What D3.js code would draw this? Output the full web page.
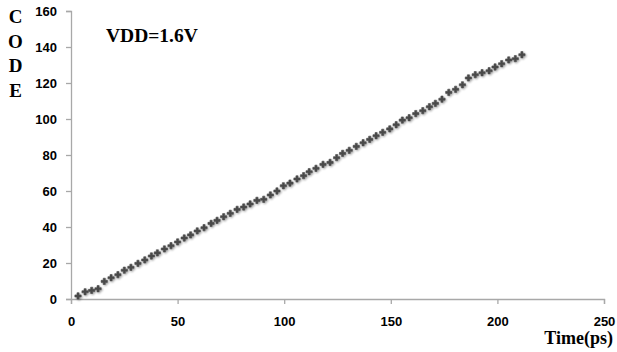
<!DOCTYPE html>
<html>
<head>
<meta charset="utf-8">
<script src="https://cdn.jsdelivr.net/npm/d3@7"></script>
<style>
body { margin: 0; background: #fff; }
.tick text { font-family: "Liberation Sans", Arial, sans-serif; font-weight: bold; font-size: 13px; fill: #000; }
.serifLabel { font-family: "Liberation Serif", "Times New Roman", serif; font-weight: bold; fill: #000; }
</style>
</head>
<body>
<svg id="chart" width="617" height="352"></svg>
<script>
// time (ps) and output code
var timePs = [3.3, 6.6, 9.7, 12.7, 15.6, 18.8, 22.0, 25.0, 28.1, 31.4, 34.6, 37.7, 40.5, 43.8, 46.9, 50.0, 53.1,
	56.1, 59.2, 62.4, 65.7, 68.5, 71.6, 74.7, 77.9, 81.0, 84.0, 87.2, 90.4, 93.5, 96.6, 99.6, 102.7, 106.0,
	109.1, 111.7, 114.9, 118.2, 121.5, 124.6, 127.4, 130.5, 133.8, 137.0, 140.1, 143.1, 146.2, 149.5, 152.5,
	155.4, 158.6, 161.7, 165.0, 168.1, 170.9, 174.0, 177.2, 180.4, 183.6, 186.4, 189.6, 192.8, 196.1, 198.9,
	202.0, 205.3, 208.4, 211.5];
var codeVals = [1.7, 4, 4.8, 5.7, 9.8, 11.8, 13.5, 16, 17.6, 19.8, 21.7, 23.9, 25.6, 27.8, 29.6, 31.7, 33.9,
	35.6, 37.8, 39.6, 42, 43.7, 45.7, 47.6, 49.8, 51.1, 52.8, 54.8, 55.4, 57.8, 60, 62.9, 64.4, 66.7,
	68.5, 70.7, 72.6, 74.8, 75.9, 78.5, 80.9, 82.6, 84.8, 86.8, 88.7, 90.7, 92.6, 94.5, 96.8,
	99.4, 100.7, 103, 104.6, 106.8, 108.7, 111, 114.8, 116.5, 119, 122.8, 124.6, 125.7, 126.8, 128.9,
	130.7, 132.8, 133.5, 135.7];
var xTicks = [0, 50, 100, 150, 200, 250];
var yTicks = [0, 20, 40, 60, 80, 100, 120, 140, 160];
var yLetters = ["C", "O", "D", "E"];
var noteText = "VDD=1.6V";
var xTitle = "Time(ps)";

var svg = d3.select("#chart");
var axisColor = "#a8a8a8";

var x = d3.scaleLinear().domain([0, 250]).range([71, 604]);
var y = d3.scaleLinear().domain([0, 160]).range([299, 11]);

// soft shadow like the excel markers
var defs = svg.append("defs");
var shadow = defs.append("filter").attr("id", "shadow")
	.attr("x", "-50%").attr("y", "-50%").attr("width", "200%").attr("height", "200%");
shadow.append("feGaussianBlur").attr("in", "SourceAlpha").attr("stdDeviation", 0.9).attr("result", "blur");
shadow.append("feOffset").attr("in", "blur").attr("dx", 0.8).attr("dy", 1).attr("result", "off");
shadow.append("feComponentTransfer").attr("in", "off").attr("result", "soft")
	.append("feFuncA").attr("type", "linear").attr("slope", 0.4);
var merge = shadow.append("feMerge");
merge.append("feMergeNode").attr("in", "soft");
merge.append("feMergeNode").attr("in", "SourceGraphic");

var yAxis = svg.append("g")
	.attr("transform", "translate(71,0)")
	.call(d3.axisLeft(y).tickValues(yTicks).tickSize(5).tickPadding(9));
var xAxis = svg.append("g")
	.attr("transform", "translate(0,299)")
	.call(d3.axisBottom(x).tickValues(xTicks).tickSize(5).tickPadding(13));

[xAxis, yAxis].forEach(function(a){
	a.select(".domain").attr("stroke", axisColor).attr("stroke-width", 1.3);
	a.selectAll(".tick line").attr("stroke", axisColor).attr("stroke-width", 1.3);
});
xAxis.selectAll(".tick text").attr("dy", "0.71em");

var pts = timePs.map(function(t, i){ return {t: t, c: codeVals[i]}; });
var sym = d3.symbol().type(d3.symbolCross).size(22);

svg.append("g").attr("filter", "url(#shadow)")
	.selectAll("path")
	.data(pts)
	.enter()
	.append("path")
	.attr("d", sym)
	.attr("fill", "#4a4a4a")
	.attr("stroke", "#4a4a4a")
	.attr("stroke-width", 0.6)
	.attr("stroke-linejoin", "round")
	.attr("transform", function(d){ return "translate(" + x(d.t) + "," + y(d.c) + ")"; });

// vertical letters for the y title
svg.append("g").selectAll("text")
	.data(yLetters)
	.enter()
	.append("text")
	.attr("class", "serifLabel")
	.attr("x", 15.5)
	.attr("y", function(d, i){ return 23 + i * 24.5; })
	.attr("text-anchor", "middle")
	.style("font-size", "19px")
	.text(function(d){ return d; });

svg.append("text")
	.attr("class", "serifLabel")
	.attr("x", 106)
	.attr("y", 42)
	.style("font-size", "19.5px")
	.text(noteText);

svg.append("text")
	.attr("class", "serifLabel")
	.attr("x", 613)
	.attr("y", 344)
	.attr("text-anchor", "end")
	.style("font-size", "18px")
	.text(xTitle);
</script>
</body>
</html>
